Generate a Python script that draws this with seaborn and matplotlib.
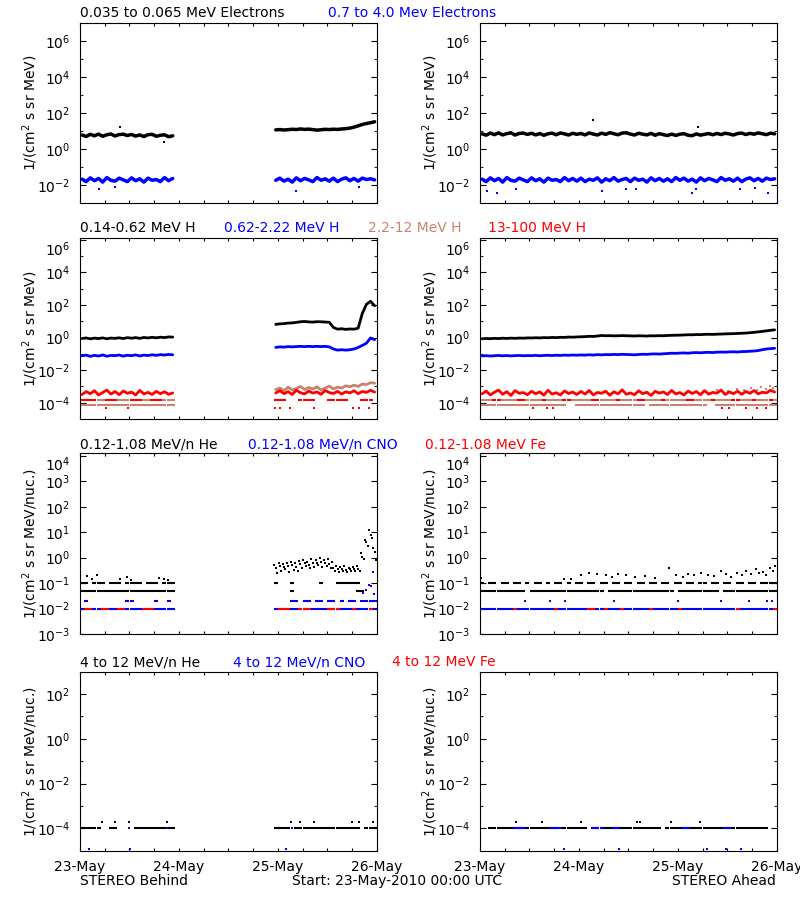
import numpy as np
import pandas as pd
import matplotlib
matplotlib.use("Agg")
import matplotlib.pyplot as plt
import matplotlib.dates as mdates
from matplotlib.ticker import FuncFormatter, NullFormatter
import seaborn as sns

START = pd.Timestamp("2010-05-23 00:00")
BLACK, BLUE, TAN, RED = "black", "#0000ff", "#c8826e", "#ff0000"

# hourly grid (hour index from start); STEREO Behind has a gap on 23/24 May
HRS_A = list(range(0, 72))
HRS_B = list(range(0, 23)) + list(range(47, 72))

# ---- row 1: electrons ----
elec_lo_b = [6.2, 5.2, 6.8, 5.6, 7.0, 5.3, 6.4, 7.1, 5.5, 6.6, 6.9, 5.8, 6.7, 5.4, 6.3, 5.1, 6.5, 6.8, 5.3, 6.0, 6.4, 5.0, 5.6,
             12.0, 12.5, 11.8, 12.3, 13.0, 12.6, 13.5, 12.8, 13.2, 12.4, 11.6, 12.2, 12.9, 12.5, 13.1, 12.7, 13.5, 14.0,
             15.0, 17.0, 20.0, 24.0, 27.0, 30.0, 34.0]
elec_hi_b = [0.022, 0.016, 0.026, 0.018, 0.024, 0.015, 0.027, 0.019, 0.017, 0.025, 0.020, 0.016,
             0.026, 0.018, 0.023, 0.015, 0.025, 0.019, 0.021, 0.016, 0.027, 0.018, 0.024,
             0.019, 0.025, 0.017, 0.022, 0.015, 0.026, 0.018, 0.024, 0.020, 0.016, 0.027, 0.019,
             0.023, 0.017, 0.025, 0.016, 0.022, 0.026, 0.018, 0.024, 0.017, 0.025, 0.021, 0.023, 0.020]
elec_lo_b_out_t, elec_lo_b_out_v = [9.7, 20.5], [18, 2.7]
elec_hi_b_out_t, elec_hi_b_out_v = [4.6, 8.5, 52.3, 67.7], [0.0063, 0.008, 0.005, 0.008]

elec_lo_a = [7.2, 6.1, 8.0, 6.5, 8.2, 6.3, 7.4, 8.3, 6.2, 7.6, 8.0, 6.7, 7.8, 6.3, 7.5, 6.0, 7.3, 7.9, 6.4, 8.1, 7.2, 6.2, 7.8, 6.8,
             7.6, 6.3, 8.1, 7.0, 6.2, 7.9, 6.7, 8.4, 7.3, 6.4, 8.0, 8.3, 7.0, 6.2, 7.8, 6.9, 6.3, 7.7, 6.0, 7.4, 6.5, 5.8, 7.0, 5.9,
             6.9, 7.4, 6.0, 5.7, 7.2, 6.1, 6.8, 7.5, 6.4, 7.6, 6.6, 7.8, 7.1, 6.2, 7.5, 8.0, 6.6, 7.7, 6.9, 8.1, 7.3, 6.5, 7.9, 7.2]
elec_hi_a = [0.022, 0.016, 0.026, 0.018, 0.024, 0.015, 0.027, 0.019, 0.017, 0.025, 0.020, 0.016,
             0.026, 0.018, 0.023, 0.015, 0.025, 0.019, 0.021, 0.016, 0.027, 0.018, 0.024, 0.017,
             0.025, 0.016, 0.022, 0.019, 0.026, 0.015, 0.023, 0.018, 0.027, 0.017, 0.021, 0.024,
             0.016, 0.025, 0.019, 0.022, 0.015, 0.026, 0.018, 0.024, 0.017, 0.023, 0.016, 0.027,
             0.019, 0.025, 0.017, 0.022, 0.015, 0.026, 0.018, 0.024, 0.020, 0.016, 0.027, 0.019,
             0.023, 0.017, 0.025, 0.016, 0.022, 0.026, 0.018, 0.024, 0.017, 0.025, 0.021, 0.023]
elec_lo_a_out_t, elec_lo_a_out_v = [27.5, 52.8], [40, 17]
elec_hi_a_out_t = [1.6, 4.2, 8.7, 29.6, 35.5, 37.8, 51.4, 52.5, 63.1, 66.8, 70.0]
elec_hi_a_out_v = [0.005, 0.0036, 0.0066, 0.005, 0.006, 0.006, 0.0036, 0.0066, 0.006, 0.007, 0.0036]

# ---- row 2: protons ----
h_lo_b = [0.88, 0.95, 0.84, 0.93, 0.87, 0.96, 0.85, 0.94, 0.9, 0.97, 0.88, 0.99, 0.92, 1.0, 0.9, 1.02, 0.95, 1.04, 0.97,
          1.06, 1.0, 1.1, 1.08,
          6.5, 7.0, 7.2, 7.8, 8.0, 8.6, 9.4, 9.8, 9.2, 9.0, 9.5, 9.3, 9.1, 8.7, 4.2, 3.3, 3.5, 3.2, 3.4, 3.3, 3.8,
          30, 110, 170, 90]
h_mid_b = [0.076, 0.084, 0.07, 0.082, 0.074, 0.086, 0.072, 0.08, 0.078, 0.085, 0.073, 0.083, 0.077, 0.087, 0.075,
           0.084, 0.079, 0.088, 0.081, 0.09, 0.085, 0.092, 0.088,
           0.25, 0.27, 0.26, 0.28, 0.27, 0.28, 0.29, 0.28, 0.29, 0.28, 0.29, 0.28, 0.29, 0.27, 0.2, 0.17, 0.18, 0.17,
           0.18, 0.2, 0.25, 0.33, 0.45, 0.95, 0.75]
h_top_b_e4 = [3.2, 4.8, 3.6, 5.5, 3.0, 4.2, 6.0, 3.4, 4.9, 3.1, 5.2, 3.8, 4.5, 3.0, 5.7, 3.5, 4.3, 3.2, 5.0, 3.6, 4.7, 3.3, 4.0,
              4.0, 5.5, 3.6, 4.8, 3.2, 5.9, 4.1, 3.5, 5.2, 3.9, 4.6, 3.3, 5.6, 4.2, 3.7, 5.0, 3.4, 4.7, 4.0, 5.4, 3.6,
              4.9, 4.3, 5.8, 4.5]
h_hi_b_band_hours = list(range(47, 72))
h_hi_b_band_e4 = [6.5, 8.0, 5.5, 9.0, 6.0, 7.5, 10, 6.5, 8.5, 7.0, 9.5, 6.0, 8.0, 10.5, 7.0, 9.0, 8.0, 11, 9.5, 12, 10, 14, 13,
                  17, 16]
h_hi_b_lvl1_hours = [0, 1, 2, 3, 4, 5, 9, 10, 11, 15, 16, 20, 21, 22]
h_hi_b_lvl2_hours = list(range(0, 23))
h_top_b_lvl_hours = [0, 1, 2, 3, 6, 7, 8, 12, 13, 14, 17, 18, 19, 47, 48, 49, 53, 54, 55, 56, 60, 61, 62, 63, 64, 68, 69, 70]
h_top_b_low_t = [6.4, 11.7, 47.4, 48.6, 51.0, 56.8, 66.2, 67.8, 70.2]
h_top_b_low_v = [5e-5, 5e-5, 5e-5, 5e-5, 5e-5, 5e-5, 5e-5, 5e-5, 5e-5]

h_lo_a = [0.85, 0.88, 0.86, 0.9, 0.87, 0.92, 0.89, 0.93, 0.9, 0.94, 0.92, 0.96,
          0.95, 0.98, 0.96, 1.0, 0.98, 1.02, 1.0, 1.04, 1.03, 1.08, 1.06, 1.1,
          1.12, 1.15, 1.2, 1.18, 1.25, 1.35, 1.3, 1.32, 1.28, 1.3, 1.33, 1.3,
          1.28, 1.25, 1.3, 1.27, 1.25, 1.3, 1.28, 1.32, 1.3, 1.35, 1.38, 1.4,
          1.42, 1.45, 1.5, 1.48, 1.55, 1.52, 1.58, 1.6, 1.57, 1.62, 1.65, 1.7,
          1.72, 1.75, 1.8, 1.85, 1.9, 2.0, 2.1, 2.25, 2.4, 2.6, 2.8, 3.0]
h_mid_a = [0.075, 0.078, 0.074, 0.077, 0.08, 0.076, 0.079, 0.075, 0.078, 0.08, 0.077, 0.079,
           0.078, 0.081, 0.077, 0.08, 0.082, 0.079, 0.083, 0.08, 0.084, 0.082, 0.085, 0.083,
           0.086, 0.084, 0.088, 0.085, 0.09, 0.087, 0.091, 0.089, 0.093, 0.09, 0.094, 0.092,
           0.09, 0.088, 0.092, 0.095, 0.093, 0.098, 0.1, 0.097, 0.102, 0.105, 0.11, 0.108,
           0.112, 0.115, 0.11, 0.118, 0.12, 0.117, 0.122, 0.125, 0.12, 0.128, 0.13, 0.127,
           0.132, 0.135, 0.13, 0.138, 0.14, 0.145, 0.15, 0.16, 0.18, 0.2, 0.21, 0.22]
h_top_a_e4 = [3.5, 5.2, 3.0, 4.4, 6.0, 3.3, 4.8, 2.8, 5.5, 3.8, 4.2, 3.1, 5.0, 3.6, 4.6, 2.9, 5.8, 3.4, 4.1, 3.0, 5.3, 3.7, 4.5, 3.2,
              4.9, 3.4, 5.6, 3.0, 4.3, 3.8, 5.1, 2.9, 4.7, 3.5, 6.2, 3.3, 4.0, 3.1, 5.4, 3.6, 4.4, 2.8, 5.0, 3.9, 4.6, 3.2, 5.7, 3.5,
              4.2, 3.0, 5.2, 3.7, 4.8, 3.1, 5.5, 3.4, 4.3, 3.9, 6.0, 3.2, 4.6, 3.6, 5.1, 3.3, 4.9, 3.8, 5.6, 3.5, 4.4, 4.0, 5.8, 4.5]
h_hi_a_lvl1_hours = [0, 1, 2, 5, 6, 7, 8, 11, 12, 13, 14, 16, 17, 18, 19, 22, 23, 24, 25, 26, 29, 30, 31, 32, 34, 35, 36, 37,
                     40, 41, 42, 43, 45, 46, 47, 48, 49, 52, 53, 54, 55, 57, 58, 59, 60, 63, 64, 65, 67, 68, 69, 71]
h_hi_a_lvl2_hours = [h for h in HRS_A if h not in (21, 22, 40, 55, 56)]
h_hi_a_up_t = [54.2, 57.5, 60.1, 62.4, 64.0, 65.7, 67.1, 68.2, 69.4, 70.3, 71.2]
h_hi_a_up_v = [5e-4, 6e-4, 5e-4, 7e-4, 6e-4, 8e-4, 6e-4, 9e-4, 7e-4, 1e-3, 8e-4]
h_top_a_lvl_hours = [3, 4, 9, 10, 15, 20, 21, 27, 28, 33, 38, 39, 44, 50, 51, 56, 61, 62, 66, 70]
h_top_a_low_t = [12.9, 16.2, 17.8, 58.8, 60.4, 64.5, 67.3, 69.3]
h_top_a_low_v = [5e-5, 5e-5, 5e-5, 5e-5, 5e-5, 5e-5, 5e-5, 5e-5]

# ---- row 3: 0.12-1.08 MeV/n heavy ions ----
he_b_lvl05_hours = list(range(0, 23)) + [51, 67, 68]
he_b_lvl10_hours = [0, 1, 3, 4, 5, 7, 8, 9, 11, 12, 13, 14, 16, 17, 18, 20, 21, 22, 47, 51, 58, 62, 63, 64, 65, 66, 67]
he_b_dot_t = [1.8, 3.0, 4.2, 9.6, 11.4, 12.4, 19.2, 20.4, 21.3]
he_b_dot_v = [0.19, 0.14, 0.2, 0.15, 0.18, 0.13, 0.16, 0.14, 0.13]
he_b_cloud_hours = list(range(47, 72))
he_b_cloud_hi = [0.5, 0.6, 0.55, 0.62, 0.7, 0.6, 0.75, 0.8, 0.7, 0.85, 0.78, 0.95, 0.8, 0.9, 0.7, 0.45, 0.42, 0.46, 0.4, 0.44,
                 0.45, 1.5, 5.0, 12.0, 2.5]
he_b_cloud_mid = [0.38, 0.45, 0.42, 0.48, 0.5, 0.44, 0.55, 0.6, 0.52, 0.6, 0.62, 0.68, 0.6, 0.58, 0.4, 0.35, 0.36, 0.34, 0.35,
                  0.37, 0.36, 1.1, 4.0, 8.0, 1.6]
he_b_cloud_lo = [0.25, 0.3, 0.35, 0.28, 0.33, 0.3, 0.4, 0.45, 0.38, 0.42, 0.5, 0.44, 0.48, 0.4, 0.3, 0.28, 0.3, 0.27, 0.3, 0.29,
                 0.3, 0.9, 3.0, 6.0, 0.8]
cno_b_lvl02_hours = [1, 11, 12, 18, 21, 51, 52, 54, 55, 57, 58, 60, 61, 63, 65, 66, 68, 69, 70, 71]
cno_b_dot_t = [68.7, 69.3, 70.1, 70.7, 71.2, 71.3]
cno_b_dot_v = [0.042, 0.056, 0.088, 0.076, 0.27, 0.036]
fe_b_lvl01_hours = [1, 2, 5, 6, 9, 10, 15, 16, 17, 48, 49, 50, 53, 54, 55, 60, 61, 62, 66, 70]

he_a_lvl05_hours = [h for h in HRS_A if h not in (11, 30, 47, 58)]
he_a_lvl10_hours = [0, 2, 3, 5, 6, 8, 9, 11, 13, 14, 16, 18, 19, 21, 23, 24, 26, 27, 29, 30, 32, 33, 35, 36, 38, 39, 41, 42,
                    44, 45, 47, 48, 50, 51, 53, 54, 56, 57, 59, 60, 62, 63, 65, 66, 68, 69, 70, 71]
he_a_dot_t = [0.3, 20.5, 22.0, 24.6, 26.5, 28.3, 30.5, 32.0, 33.5, 35.4, 37.6, 40.0, 42.5, 45.8, 47.5, 49.2, 50.5, 52.0,
              53.6, 55.4, 56.8, 58.4, 59.8, 61.0, 62.3, 63.5, 64.6, 65.8, 66.9, 67.8, 68.7, 69.5, 70.3, 71.0, 71.6]
he_a_dot_v = [0.16, 0.14, 0.15, 0.2, 0.25, 0.22, 0.2, 0.18, 0.22, 0.2, 0.17, 0.19, 0.16, 0.39, 0.2, 0.18, 0.22, 0.2, 0.25,
              0.21, 0.19, 0.3, 0.22, 0.18, 0.26, 0.2, 0.3, 0.22, 0.35, 0.25, 0.28, 0.2, 0.4, 0.3, 0.45]
cno_a_dot_t = [10.8, 17.0, 20.7, 32.4, 48.0, 58.4, 65.3, 69.7, 70.9]
cno_a_dot_v = [0.02, 0.02, 0.02, 0.02, 0.02, 0.02, 0.02, 0.02, 0.02]
fe_a_lvl01_hours = [8, 18, 26, 27, 30, 34, 41, 48, 62, 71]

# ---- row 4: 4-12 MeV/n heavy ions ----
he4_b_lvl_hours = [0, 1, 2, 3, 4, 7, 8, 13, 14, 15, 16, 17, 18, 19, 20, 21, 22, 47, 48, 49, 50, 52, 53, 54, 55, 56, 57, 58,
                   59, 60, 61, 62, 63, 64, 65, 66, 67, 69, 70, 71]
he4_b_dot_t = [5.3, 8.5, 11.8, 21.1, 51.1, 53.5, 56.8, 66.1, 67.7, 71.2]
he4_b_dot_v = [2e-4, 2e-4, 2e-4, 2e-4, 2e-4, 2e-4, 2e-4, 2e-4, 2e-4, 2e-4]
cno4_b_dot_t = [11.8, 21.1, 51.5, 2.2, 12.2, 49.9]
cno4_b_dot_v = [1e-4, 1e-4, 1e-4, 1.2e-5, 1.2e-5, 1.2e-5]
he4_a_lvl_hours = [h for h in range(2, 70) if h not in (19, 26, 44)]
he4_a_dot_t = [8.7, 15.0, 24.6, 38.0, 38.9, 46.4, 53.5]
he4_a_dot_v = [2e-4, 2e-4, 2e-4, 2e-4, 2e-4, 2e-4, 2e-4]
cno4_a_lvl_hours = [8, 9, 10, 17, 18, 19, 27, 28, 29, 32, 33, 49, 50, 59, 60]
cno4_a_dot_t = [20.3, 33.8, 55.1, 59.6, 63.4]
cno4_a_dot_v = [1.2e-5, 1.2e-5, 1.2e-5, 1.2e-5, 1.2e-5]


def tstamp(h):
    return START + pd.to_timedelta(np.asarray(h, float), unit="h")


def band(ax, hours, vals, color, lw=2.5, scale=1.0):
    h = np.asarray(hours, float) + 0.5
    seg = np.cumsum(np.r_[0, np.diff(h) > 1.5])
    df = pd.DataFrame({"t": tstamp(h), "v": np.asarray(vals, float) * scale, "seg": seg})
    sns.lineplot(data=df, x="t", y="v", units="seg", estimator=None, color=color,
                 linewidth=lw, ax=ax, legend=False)


def level(ax, hours, value, color):
    h = np.asarray(hours, float) + 0.5
    df = pd.DataFrame({"t": tstamp(h), "v": np.full(len(h), value)})
    sns.scatterplot(data=df, x="t", y="v", marker="_", s=9, linewidth=1.5, color=color, ax=ax, legend=False)


def dots(ax, hours, vals, color, s=4):
    df = pd.DataFrame({"t": tstamp(hours), "v": vals})
    sns.scatterplot(data=df, x="t", y="v", marker="s", s=s, linewidth=0, color=color, ax=ax, legend=False)


sns.set_theme(style="white")
plt.rcParams["font.family"] = ["DejaVu Sans"]
plt.rcParams["mathtext.default"] = "regular"
plt.rcParams["axes.edgecolor"] = "black"
plt.rcParams["axes.linewidth"] = 0.8

fig = plt.figure(figsize=(8, 9), dpi=100)
LEFTS = [80, 480]
WIDTH = 296.7
ROWS = [(23.3, 203.3), (238.3, 419.0), (453.3, 634.0), (671.7, 850.7)]
axes = [[fig.add_axes([l / 800, 1 - b / 900, WIDTH / 800, (b - t) / 900]) for l in LEFTS] for t, b in ROWS]

YLIM = [(1e-3, 1e7), (1e-5, 10 ** 6.1), (1e-3, 10 ** 4.1), (1e-5, 1e3)]
MAJ = [[-2, 0, 2, 4, 6], [-4, -2, 0, 2, 4, 6], [-3, -2, -1, 0, 1, 2, 3, 4], [-4, -2, 0, 2]]
MIN = [[-1, 1, 3, 5], [-3, -1, 1, 3, 5], [], [-3, -1, 1]]
YLAB = ["1/(cm$^2$ s sr MeV)", "1/(cm$^2$ s sr MeV)", "1/(cm$^2$ s sr MeV/nuc.)", "1/(cm$^2$ s sr MeV/nuc.)"]

# row 1
ax = axes[0][0]
band(ax, HRS_B, elec_lo_b, BLACK)
band(ax, HRS_B, elec_hi_b, BLUE)
dots(ax, elec_lo_b_out_t, elec_lo_b_out_v, BLACK)
dots(ax, elec_hi_b_out_t, elec_hi_b_out_v, BLUE)
ax = axes[0][1]
band(ax, HRS_A, elec_lo_a, BLACK)
band(ax, HRS_A, elec_hi_a, BLUE)
dots(ax, elec_lo_a_out_t, elec_lo_a_out_v, BLACK)
dots(ax, elec_hi_a_out_t, elec_hi_a_out_v, BLUE)

# row 2
ax = axes[1][0]
band(ax, HRS_B, h_lo_b, BLACK, lw=2.0)
band(ax, HRS_B, h_mid_b, BLUE, lw=2.0)
level(ax, h_hi_b_lvl1_hours, 1.5e-4, TAN)
level(ax, h_hi_b_lvl2_hours, 7e-5, TAN)
band(ax, h_hi_b_band_hours, h_hi_b_band_e4, TAN, lw=2.0, scale=1e-4)
band(ax, HRS_B, h_top_b_e4, RED, lw=2.0, scale=1e-4)
level(ax, h_top_b_lvl_hours, 1.5e-4, RED)
dots(ax, h_top_b_low_t, h_top_b_low_v, RED)
ax = axes[1][1]
band(ax, HRS_A, h_lo_a, BLACK, lw=2.0)
band(ax, HRS_A, h_mid_a, BLUE, lw=2.0)
level(ax, h_hi_a_lvl1_hours, 1.5e-4, TAN)
level(ax, h_hi_a_lvl2_hours, 7e-5, TAN)
dots(ax, h_hi_a_up_t, h_hi_a_up_v, TAN)
band(ax, HRS_A, h_top_a_e4, RED, lw=2.0, scale=1e-4)
level(ax, h_top_a_lvl_hours, 1.5e-4, RED)
dots(ax, h_top_a_low_t, h_top_a_low_v, RED)

# row 3
ax = axes[2][0]
level(ax, he_b_lvl05_hours, 0.05, BLACK)
level(ax, he_b_lvl10_hours, 0.1, BLACK)
dots(ax, he_b_dot_t, he_b_dot_v, BLACK)
ch = np.asarray(he_b_cloud_hours, float)
dots(ax, ch + 0.17, he_b_cloud_hi, BLACK)
dots(ax, ch + 0.5, he_b_cloud_mid, BLACK)
dots(ax, ch + 0.83, he_b_cloud_lo, BLACK)
level(ax, HRS_B, 0.01, BLUE)
level(ax, cno_b_lvl02_hours, 0.02, BLUE)
dots(ax, cno_b_dot_t, cno_b_dot_v, BLUE)
level(ax, fe_b_lvl01_hours, 0.01, RED)
ax = axes[2][1]
level(ax, he_a_lvl05_hours, 0.05, BLACK)
level(ax, he_a_lvl10_hours, 0.1, BLACK)
dots(ax, he_a_dot_t, he_a_dot_v, BLACK)
level(ax, HRS_A, 0.01, BLUE)
dots(ax, cno_a_dot_t, cno_a_dot_v, BLUE)
level(ax, fe_a_lvl01_hours, 0.01, RED)

# row 4
ax = axes[3][0]
level(ax, he4_b_lvl_hours, 1e-4, BLACK)
dots(ax, he4_b_dot_t, he4_b_dot_v, BLACK)
dots(ax, cno4_b_dot_t, cno4_b_dot_v, BLUE)
ax = axes[3][1]
level(ax, he4_a_lvl_hours, 1e-4, BLACK)
dots(ax, he4_a_dot_t, he4_a_dot_v, BLACK)
level(ax, cno4_a_lvl_hours, 1e-4, BLUE)
dots(ax, cno4_a_dot_t, cno4_a_dot_v, BLUE)

fmt = FuncFormatter(lambda v, p: f"$10^{{{int(round(np.log10(v)))}}}$")
for r in range(4):
    for ax in axes[r]:
        ax.set_yscale("log")
        ax.set_ylim(*YLIM[r])
        ax.set_yticks([10.0 ** k for k in MAJ[r]])
        ax.set_yticks([10.0 ** k for k in MIN[r]], minor=True)
        ax.yaxis.set_major_formatter(fmt)
        ax.yaxis.set_minor_formatter(NullFormatter())
        ax.set_xlim(START, START + pd.Timedelta(days=3))
        ax.xaxis.set_major_locator(mdates.DayLocator())
        ax.xaxis.set_minor_locator(mdates.HourLocator(byhour=[6, 12, 18]))
        ax.xaxis.set_major_formatter(mdates.DateFormatter("%d-%b"))
        ax.xaxis.set_minor_formatter(NullFormatter())
        ax.tick_params(axis="x", which="both", direction="in", top=True, bottom=True, length=2.5, width=0.8,
                       labelbottom=(r == 3), pad=7, labelsize=10, colors="black")
        ax.tick_params(axis="y", which="major", direction="in", left=True, right=True, length=4.5, width=0.8,
                       pad=7, labelsize=10, colors="black")
        ax.tick_params(axis="y", which="minor", direction="in", left=True, right=True, length=2.5, width=0.8)
        ax.set_xlabel("")
        ax.set_ylabel(YLAB[r], fontsize=10, color="black")
        ax.yaxis.set_label_coords(-0.135, 0.5)
        if r in (1, 2):
            # top label sits just under the panel top, as in the reference
            ax.yaxis.get_major_ticks()[-1].label1.set_verticalalignment("top")


def ftext(x, y, s, color=BLACK, ha="left"):
    fig.text(x / 800, 1 - y / 900, s, color=color, ha=ha, va="center", fontsize=10)


ftext(80, 13, "0.035 to 0.065 MeV Electrons")
ftext(328, 13, "0.7 to 4.0 Mev Electrons", BLUE)
ftext(80, 228, "0.14-0.62 MeV H")
ftext(224, 228, "0.62-2.22 MeV H", BLUE)
ftext(368, 228, "2.2-12 MeV H", TAN)
ftext(488, 228, "13-100 MeV H", RED)
ftext(80, 445, "0.12-1.08 MeV/n He")
ftext(248, 445, "0.12-1.08 MeV/n CNO", BLUE)
ftext(425, 445, "0.12-1.08 MeV Fe", RED)
ftext(80, 662, "4 to 12 MeV/n He")
ftext(233, 662, "4 to 12 MeV/n CNO", BLUE)
ftext(392, 662, "4 to 12 MeV Fe", RED)
ftext(80, 881, "STEREO Behind")
ftext(292, 881, "Start: 23-May-2010 00:00 UTC")
ftext(776, 881, "STEREO Ahead", ha="right")

fig.savefig("out.png", dpi=100, facecolor="white")
